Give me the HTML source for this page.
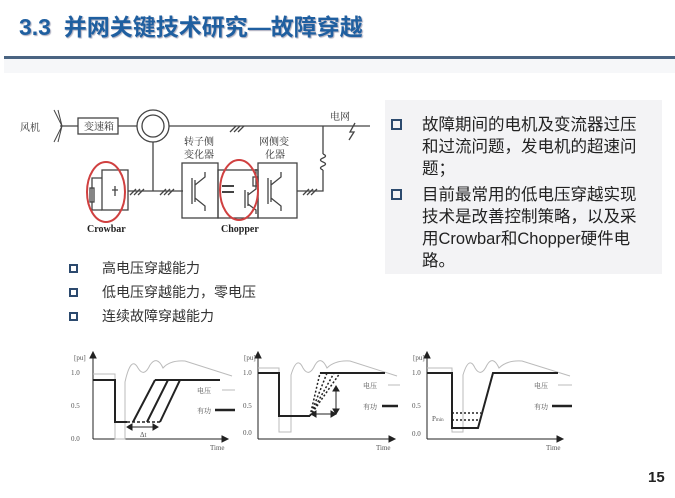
<!DOCTYPE html>
<html><head><meta charset="utf-8"><style>
body{margin:0;width:675px;height:498px;background:#fff;position:relative;overflow:hidden;font-family:"Liberation Sans","Noto Sans CJK SC",sans-serif}
.t{position:absolute;white-space:nowrap}
.title{left:19px;top:8px;font-size:23px;font-weight:bold;color:#1f5fa0;text-shadow:1px 1px 1px #aab}
.bar{position:absolute;left:4px;top:56px;width:671px;height:3px;background:#4a6482}
.band{position:absolute;left:4px;top:59px;width:671px;height:14px;background:#f6f7f9}
.box{position:absolute;left:385px;top:100px;width:277px;height:174px;background:#f3f3f5}
.rb{font-size:16.5px;color:#222;line-height:22px;left:422px}
.sq{position:absolute;width:7px;height:7px;border:2.5px solid #2c4a6e}
.lb{font-size:14px;color:#333;left:102px}
</style></head><body>
<div class="t title">3.3&nbsp; 并网关键技术研究—故障穿越</div>
<div class="bar"></div><div class="band"></div>
<div class="box"></div>
<div class="sq" style="left:391px;top:119px"></div>
<div class="t rb" style="top:114px">故障期间的电机及变流器过压<br>和过流问题，发电机的超速问<br>题；</div>
<div class="sq" style="left:391px;top:189px"></div>
<div class="t rb" style="top:184px">目前最常用的低电压穿越实现<br>技术是改善控制策略，以及采<br>用Crowbar和Chopper硬件电<br>路。</div>
<div class="sq" style="left:69px;top:264px;width:5px;height:5px;border-width:2px"></div>
<div class="t lb" style="top:258px">高电压穿越能力</div>
<div class="sq" style="left:69px;top:288px;width:5px;height:5px;border-width:2px"></div>
<div class="t lb" style="top:282px">低电压穿越能力，零电压</div>
<div class="sq" style="left:69px;top:312px;width:5px;height:5px;border-width:2px"></div>
<div class="t lb" style="top:306px">连续故障穿越能力</div>
<div class="t" style="left:648px;top:469px;font-size:15px;font-weight:bold;color:#222">15</div>
<svg width="675" height="498" style="position:absolute;left:0;top:0" font-family="Liberation Serif,Noto Serif CJK SC,serif">
<g stroke="#444" fill="none" stroke-width="1.3">
<text x="20" y="131" font-size="10" fill="#333" stroke="none">风机</text>
<path d="M58 110 L62 126 L54 142 M58 142 L62 126 L54 110" stroke-width="1"/>
<line x1="60" y1="126" x2="370" y2="126"/>
<rect x="78" y="118" width="40" height="16" fill="#fff"/>
<text x="84" y="130" font-size="10" fill="#333" stroke="none">变速箱</text>
<circle cx="153" cy="126" r="16" fill="#fff"/><circle cx="153" cy="126" r="11"/>
<text x="330" y="120" font-size="10" fill="#333" stroke="none">电网</text>
<path d="M355 123 L350 132 L354 132 L349 140"/>
<path d="M230 132 l6 -6 M234 132 l6 -6 M238 132 l6 -6"/>
<line x1="153" y1="142" x2="153" y2="191"/>
<line x1="128" y1="191" x2="183" y2="191"/>
<path d="M130 195l6-6M134 195l6-6M138 195l6-6 M160 195l6-6M164 195l6-6M168 195l6-6 M303 195l6-6M307 195l6-6M311 195l6-6"/>
<rect x="102" y="170" width="26" height="40"/>
<path d="M102 178 L92 178 L92 210 L102 210"/><rect x="90" y="188" width="4" height="14"/>
<path d="M115 186 v10 M112 190 h6"/>
<rect x="182" y="163" width="36" height="55"/>
<rect x="218" y="170" width="40" height="48"/>
<rect x="258" y="163" width="39" height="55"/>
<path d="M192 178 v26 M195 180 v22 M195 185 l10 -8 v-5 M195 198 l10 8 v5"/>
<path d="M268 178 v26 M271 180 v22 M271 185 l10 -8 v-5 M271 198 l10 8 v5"/>
<path d="M245 190 v18 M248 192 v14 M248 195 l8 -6 v-20 M248 204 l8 6 v4"/><rect x="253" y="177" width="5" height="9"/>
<path d="M222 186 h12 M222 192 h12" stroke-width="2"/>
<path d="M297 191 H323 V170 M323 154 V126"/>
<path d="M323 154 q5 2 0 4 q-5 2 0 4 q5 2 0 4 q-5 2 0 4"/>
<text x="184" y="145" font-size="10" fill="#333" stroke="none">转子侧</text>
<text x="184" y="158" font-size="10" fill="#333" stroke="none">变化器</text>
<text x="259" y="145" font-size="10" fill="#333" stroke="none">网侧变</text>
<text x="265" y="158" font-size="10" fill="#333" stroke="none">化器</text>
<text x="87" y="232" font-size="10" font-weight="bold" fill="#222" stroke="none">Crowbar</text>
<text x="221" y="232" font-size="10" font-weight="bold" fill="#222" stroke="none">Chopper</text>
<ellipse cx="106" cy="192" rx="19" ry="30" stroke="#d04040" stroke-width="2"/>
<ellipse cx="239" cy="190" rx="19" ry="30" stroke="#d04040" stroke-width="2"/>
</g>
<g font-size="7" fill="#555">
<g fill="none" stroke="#222" stroke-width="1">
<path d="M93 439 V355 M225 439 H93"/><path d="M90 358 l3-6 3 6z M222 436 l6 3 -6 3z" fill="#222"/>
<path d="M93 374 H115 V439 H125 V382 Q131 355 138 368 Q144 378 150 365 Q157 355 163 368 Q170 360 185 361 L232 376" stroke="#bbb"/>
<path d="M93 380 H115 V422 H127 M133 422 L155 380 M147 422 L168 380 M160 422 L180 380 M155 380 H220" stroke-width="2"/>
<path d="M127 422 H160" stroke-dasharray="3 2" stroke-width="1.5"/>
<path d="M130 427 H155"/><path d="M127 427 l5-3 v6z M158 427 l-5-3 v6z" fill="#222"/>
<path d="M222 390 H235" stroke="#bbb"/><path d="M215 410 H235" stroke-width="2.5"/>
</g>
<text x="74" y="360">[pu]</text><text x="71" y="375">1.0</text><text x="71" y="408">0.5</text><text x="71" y="441">0.0</text>
<text x="210" y="450">Time</text><text x="140" y="437">Δt</text>
<text x="197" y="393">电压</text><text x="197" y="413">有功</text>
<g fill="none" stroke="#222" stroke-width="1">
<path d="M258 439 V355 M392 439 H258"/><path d="M255 358 l3-6 3 6z M389 436 l6 3 -6 3z" fill="#222"/>
<path d="M258 368 H279 V432 H291 V375 Q297 355 303 368 Q309 378 315 365 Q321 355 327 368 Q335 360 350 361 L397 376" stroke="#bbb"/>
<path d="M258 373 H279 V416 H310 M320 373 H385" stroke-width="2"/>
<path d="M310 416 L320 373 M310 416 L327 373 M310 416 L334 373 M310 416 L340 373" stroke-dasharray="2 2" stroke-width="1.5"/>
<path d="M336 390 V410 M313 414 H333"/><path d="M336 386 l-3 5 h6z M336 414 l-3-5 h6z M311 414 l5-3 v6z M336 414 l-5-3 v6z" fill="#222"/>
<path d="M388 385 H400" stroke="#bbb"/><path d="M382 406 H398" stroke-width="2.5"/>
</g>
<text x="244" y="360">[pu]</text><text x="243" y="375">1.0</text><text x="243" y="408">0.5</text><text x="243" y="435">0.0</text>
<text x="376" y="450">Time</text><text x="363" y="388">电压</text><text x="363" y="409">有功</text>
<g fill="none" stroke="#222" stroke-width="1">
<path d="M427 439 V355 M560 439 H427"/><path d="M424 358 l3-6 3 6z M557 436 l6 3 -6 3z" fill="#222"/>
<path d="M427 368 H452 V432 H463 V375 Q469 355 475 368 Q481 378 487 365 Q493 355 499 368 Q507 360 522 361 L570 376" stroke="#bbb"/>
<path d="M427 373 H452 V428 H478 L493 373 H558" stroke-width="2"/>
<path d="M452 413 H481 M452 420 H480 M452 428 H478" stroke-dasharray="2 2" stroke-width="1.5"/>
<path d="M558 385 H572" stroke="#bbb"/><path d="M552 406 H572" stroke-width="2.5"/>
</g>
<text x="413" y="360">[pu]</text><text x="412" y="375">1.0</text><text x="412" y="408">0.5</text><text x="412" y="436">0.0</text>
<text x="546" y="450">Time</text><text x="534" y="388">电压</text><text x="534" y="409">有功</text>
<text x="432" y="421">P<tspan font-size="5">min</tspan></text>
</g>
</svg>
</body></html>
